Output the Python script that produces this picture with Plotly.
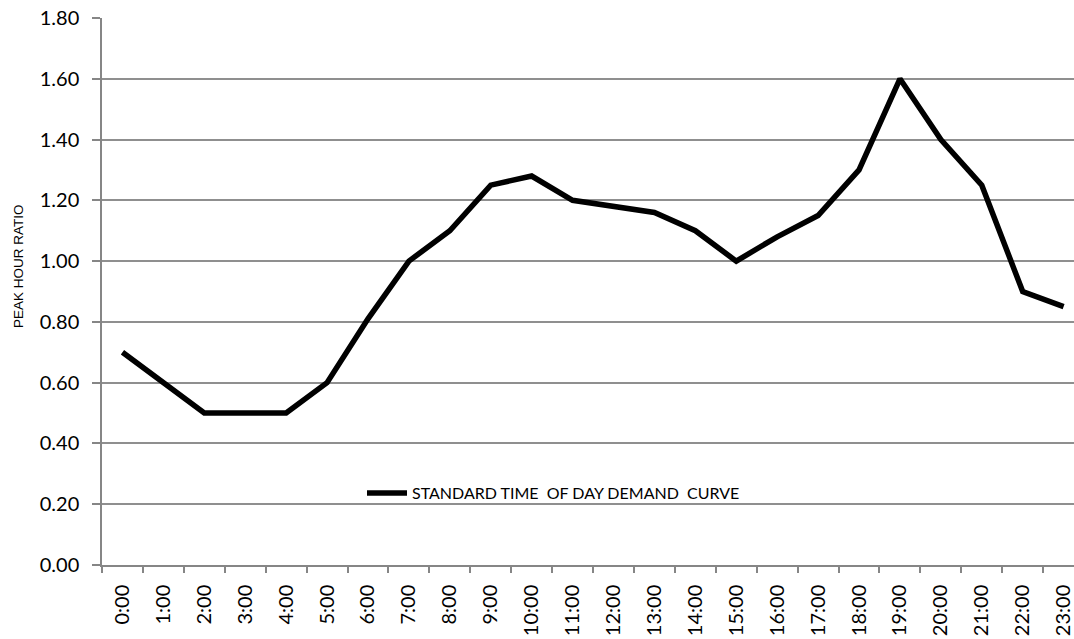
import plotly.graph_objects as go

hours = ["0:00", "1:00", "2:00", "3:00", "4:00", "5:00", "6:00", "7:00", "8:00", "9:00",
         "10:00", "11:00", "12:00", "13:00", "14:00", "15:00", "16:00", "17:00", "18:00",
         "19:00", "20:00", "21:00", "22:00", "23:00"]
ratio = [0.70, 0.60, 0.50, 0.50, 0.50, 0.60, 0.81, 1.00, 1.10, 1.25,
         1.28, 1.20, 1.18, 1.16, 1.10, 1.00, 1.08, 1.15, 1.30,
         1.60, 1.40, 1.25, 0.90, 0.85]
series_name = "STANDARD TIME  OF DAY DEMAND  CURVE"
y_title = "PEAK HOUR RATIO"

W, H = 1074, 639
L, R, T, B = 102, 0, 18, 74

fig = go.Figure()
fig.add_trace(go.Scatter(x=hours, y=ratio, mode="lines", name=series_name,
                         line=dict(color="black", width=5.5, shape="linear"),
                         showlegend=True))

pw = W - L - R
ph = H - T - B
def px_x(p):
    return (p - L) / pw
def px_y(p):
    return 1 - (p - T) / ph

fig.add_shape(type="rect", xref="paper", yref="paper",
              x0=px_x(170), x1=px_x(1000), y0=px_y(512), y1=px_y(474),
              fillcolor="white", line=dict(width=0), layer="between")

fig.add_annotation(text=y_title, xref="paper", yref="paper",
                   x=px_x(18), y=px_y(266), xanchor="center", yanchor="middle",
                   textangle=-90, showarrow=False,
                   font=dict(family="Liberation Sans, Arial", size=13.5, color="black"))

step = 40.92
x_end = -0.5 + (W - L) / step

fig.update_layout(
    width=W, height=H,
    margin=dict(l=L, r=R, t=T, b=B),
    paper_bgcolor="white", plot_bgcolor="white",
    font=dict(family="Lato, Open Sans, sans-serif", size=20, color="black"),
    showlegend=True,
    legend=dict(x=px_x(362), y=px_y(493), xanchor="left", yanchor="middle",
                bgcolor="rgba(255,255,255,0)", font=dict(size=16),
                itemwidth=40),
    xaxis=dict(type="category", tickson="boundaries", ticks="outside", ticklen=6,
               tickcolor="#868686", tickwidth=1.5, showgrid=False,
               range=[-0.5, x_end],
               showline=True, linecolor="#868686", linewidth=1.5,
               tickangle=-90, tickfont=dict(size=20), automargin=False,
               ticklabelstandoff=10),
    yaxis=dict(range=[0, 1.8], dtick=0.2, tickformat=".2f", ticks="outside", ticklen=8,
               tickcolor="#868686", tickwidth=1.5,
               showgrid=True, gridcolor="#8f8f8f", gridwidth=1.5,
               showline=True, linecolor="#868686", linewidth=1.5, zeroline=False,
               tickfont=dict(size=20), automargin=False, ticklabelstandoff=9),
)

fig.write_html("out.html", config={"displayModeBar": False},
               post_script="document.body.style.margin='0';")
